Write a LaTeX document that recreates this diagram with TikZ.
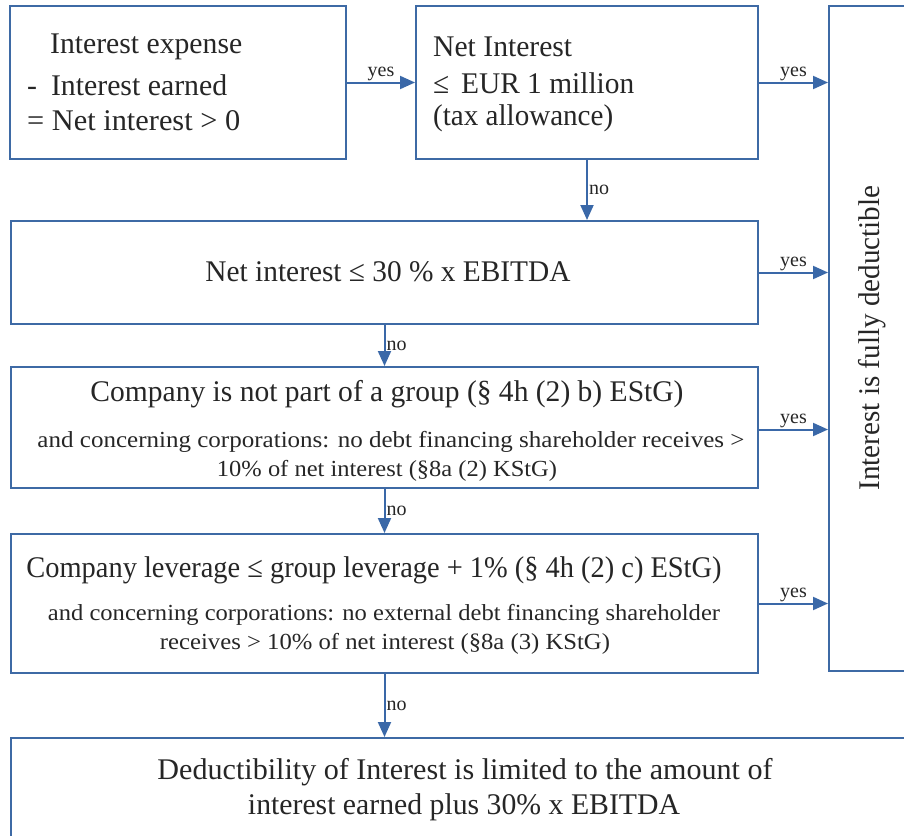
\documentclass[tikz,border=0pt]{standalone}
\usepackage{fontspec}
\setmainfont{Liberation Serif}
\usetikzlibrary{arrows.meta}
\definecolor{bblue}{RGB}{62,106,165}
\definecolor{ablue}{RGB}{58,104,168}
\newcommand{\fitw}[2]{\resizebox{#1pt}{\height}{#2}}
\begin{document}
\begin{tikzpicture}[x=1pt,y=-1pt,
  box/.style={draw=bblue,line width=2pt,fill=none,anchor=north west,inner sep=0pt},
  txt/.style={inner sep=0pt,font=\fontsize{30}{35}\selectfont,text=black!85},
  small/.style={inner sep=0pt,font=\fontsize{23}{27}\selectfont,text=black!85},
  lbl/.style={inner sep=1pt,font=\fontsize{20}{23}\selectfont,text=black!85},
  arr/.style={draw=ablue,line width=2pt,-{Triangle[length=15pt,width=13pt]}}]
\useasboundingbox (0,0) rectangle (904,835);
% boxes
\node[box,minimum width=336,minimum height=153] (b1) at (9,5) {};
\node[box,minimum width=342,minimum height=153] (b2) at (415,5) {};
\node[box,minimum width=110,minimum height=665] (r) at (828,5) {};
\node[box,minimum width=747,minimum height=103] (b3) at (10,220) {};
\node[box,minimum width=747,minimum height=121] (b4) at (10,366) {};
\node[box,minimum width=747,minimum height=139] (b5) at (10,533) {};
\node[box,minimum width=920,minimum height=110] (b6) at (10,737) {};
% texts
\node[txt,anchor=west] (t1a) at (50,47) {\fitw{192}{Interest expense}};
\node[txt,anchor=west] (t1b) at (27,85) {\fitw{200}{-\hspace{14pt}Interest earned}};
\node[txt,anchor=west] (t1c) at (27,121) {\fitw{213}{= Net interest > 0}};
\node[txt,anchor=west] (t2a) at (433,47) {\fitw{139}{Net Interest}};
\node[txt,anchor=west] (t2b) at (433,83) {\fitw{201}{≤\hspace{12pt}EUR 1 million}};
\node[txt,anchor=west] (t2c) at (433,118) {\fitw{180}{(tax allowance)}};
\node[txt] (t3) at (388,272) {\fitw{365}{Net interest ≤ 30 \% x EBITDA}};
\node[txt] (t4a) at (387,394) {\fitw{593}{Company is not part of a group (§ 4h (2) b) EStG)}};
\node[small] (t4b) at (391,442) {\fitw{707}{and concerning corporations: no debt financing shareholder receives >}};
\node[small] (t4c) at (387,471) {\fitw{340}{10\% of net interest (§8a (2) KStG)}};
\node[txt] (t5a) at (374,570) {\fitw{695}{Company leverage ≤ group leverage + 1\% (§ 4h (2) c) EStG)}};
\node[small] (t5b) at (384,615) {\fitw{672}{and concerning corporations: no external debt financing shareholder}};
\node[small] (t5c) at (385,644) {\fitw{450}{receives > 10\% of net interest (§8a (3) KStG)}};
\node[txt] (t6a) at (465,772) {\fitw{615}{Deductibility of Interest is limited to the amount of}};
\node[txt] (t6b) at (464,807) {\fitw{432}{interest earned plus 30\% x EBITDA}};
\node[txt,rotate=90] (tr) at (872,338) {\fitw{305}{Interest is fully deductible}};
% connectors
\draw[arr] (b1.east) -- node[lbl,above] (y1) {yes} (b2.west);
\draw[arr] (b2.east) -- node[lbl,above] (y2) {yes} (b2.east -| r.west);
\draw[arr] (b2.south) -- node[lbl,right] (n1) {no} (b3.north -| b2.south);
\draw[arr] (b3.east) -- node[lbl,above] (y3) {yes} (b3.east -| r.west);
\draw[arr] (b3.south) -- node[lbl,right] (n2) {no} (b4.north);
\draw[arr] ([yshift=-2pt]b4.east) -- node[lbl,above] (y4) {yes} ([yshift=-2pt]b4.east -| r.west);
\draw[arr] (b4.south) -- node[lbl,right] (n3) {no} (b5.north);
\draw[arr] (b5.east) -- node[lbl,above] (y5) {yes} (b5.east -| r.west);
\draw[arr] (b5.south) -- node[lbl,right] (n4) {no} (b6.north -| b5.south);
\end{tikzpicture}
\end{document}
